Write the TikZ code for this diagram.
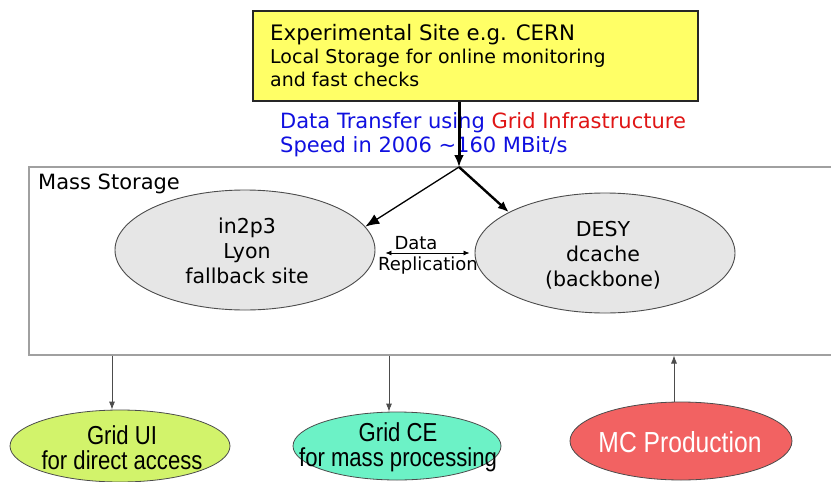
\documentclass[tikz,border=0pt]{standalone}
\usepackage{fontspec}
\setmainfont{DejaVu Sans}
\newfontfamily\narrowfont[FakeStretch=0.85]{Liberation Sans}
\usetikzlibrary{arrows.meta,shapes.geometric}
\definecolor{boxyellow}{HTML}{FFFF66}
\definecolor{tblue}{HTML}{1010E0}
\definecolor{tred}{HTML}{E01515}
\definecolor{msgray}{HTML}{A0A0A0}
\definecolor{sitegray}{HTML}{E6E6E6}
\definecolor{uigreen}{HTML}{D2F36B}
\definecolor{ceaqua}{HTML}{6CF2C6}
\definecolor{mcred}{HTML}{F26262}
\tikzset{
  txt/.style={inner sep=0pt, anchor=base west},
  site/.style={ellipse, draw=black!70, line width=0.9pt, fill=sitegray, inner sep=0pt, minimum width=260pt, minimum height=120pt},
  sitetext/.style={align=center, inner sep=0pt, font=\fontsize{20.5}{25}\selectfont},
  client/.style={ellipse, draw=black!70, line width=0.8pt, inner sep=0pt},
  clienttext/.style={align=center, inner sep=0pt, font=\narrowfont\fontsize{26}{25}\selectfont},
  thinarrow/.style={draw=black!70, line width=0.8pt, -{Latex[length=8pt,width=6pt]}},
}
\begin{document}
\begin{tikzpicture}[x=1pt,y=-1pt]
\useasboundingbox (0,0) rectangle (831,482);
\fill[white] (0,0) rectangle (831,482);

% experimental site box
\node[draw=black!85, line width=1.8pt, fill=boxyellow, inner sep=0pt,
      minimum width=445pt, minimum height=90pt, anchor=north west] (cern) at (252,10) {};
\node[txt, font=\fontsize{21.3}{25}\selectfont] (cern1) at (270,40) {Experimental Site e.g. CERN};
\node[txt, font=\fontsize{19}{23}\selectfont] (cern2) at (270,63) {Local Storage for online monitoring};
\node[txt, font=\fontsize{19}{23}\selectfont] (cern3) at (270,86) {and fast checks};

% transfer text
\node[txt, font=\fontsize{21}{25}\selectfont] (tr1) at (280,128) {\textcolor{tblue}{Data Transfer using} \textcolor{tred}{Grid Infrastructure}};
\node[txt, font=\fontsize{21}{25}\selectfont, text=tblue] (tr2) at (280,152) {Speed in 2006 {\char"7E}160 MBit/s};

% mass storage
\node[draw=msgray, line width=1.5pt, inner sep=0pt, minimum width=830pt, minimum height=188pt, anchor=north west] (ms) at (28,166) {};
\node[txt, font=\fontsize{21}{24}\selectfont] (mslabel) at (38,189) {Mass Storage};

% sites
\node[site] (in2p3) at (245,250) {};
\node[sitetext] (in2p3t) at (247,251) {in2p3\\Lyon\\fallback site};
\node[site] (desy) at (605,253) {};
\node[sitetext] (desyt) at (603,255) {DESY\\dcache\\(backbone)};

% data transfer arrows
\coordinate (split) at (459,167);
\draw[line width=3pt, -{Latex[length=12pt,width=10pt]}] (cern.south -| split) -- (split);
\draw[line width=1.3pt, -{Latex[length=14pt,width=11pt]}] (split) -- (in2p3.11);
\draw[line width=2.4pt, -{Latex[length=11pt,width=9pt]}] (split) -- (desy.157);

% replication
\draw[line width=0.8pt, {Latex[length=6pt,width=5pt]}-{Latex[length=6pt,width=5pt]}]
  ([xshift=10pt,yshift=-3pt]in2p3.east) -- ([xshift=-5pt]desy.west);
\node[inner sep=0pt, font=\fontsize{18}{20}\selectfont] (repl1) at (416,243) {Data};
\node[inner sep=0pt, font=\fontsize{18}{20}\selectfont] (repl2) at (428,266) {Replication};

% clients
\node[client, fill=uigreen, minimum width=220pt, minimum height=72pt] (gridui) at (120,446) {};
\node[clienttext] (griduit) at (122,448) {Grid UI\\ for direct access};
\node[client, fill=ceaqua, minimum width=208pt, minimum height=68pt] (gridce) at (397,446) {};
\node[clienttext] (gridcet) at (398,447) {Grid CE\\for mass processing};
\node[client, fill=mcred, minimum width=222pt, minimum height=78pt] (mc) at (681,441) {};
\node[inner sep=0pt, text=white, font=\narrowfont\fontsize{29}{30}\selectfont] (mct) at (680,442) {MC Production};

\draw[thinarrow] ([xshift=-8pt]gridui.north |- ms.south) -- ([xshift=-8pt]gridui.north);
\draw[thinarrow] ([xshift=-8pt]gridce.north |- ms.south) -- ([xshift=-8pt]gridce.north);
\draw[thinarrow] ([xshift=-7pt]mc.north) -- ([xshift=-7pt]mc.north |- ms.south);
\end{tikzpicture}
\end{document}
